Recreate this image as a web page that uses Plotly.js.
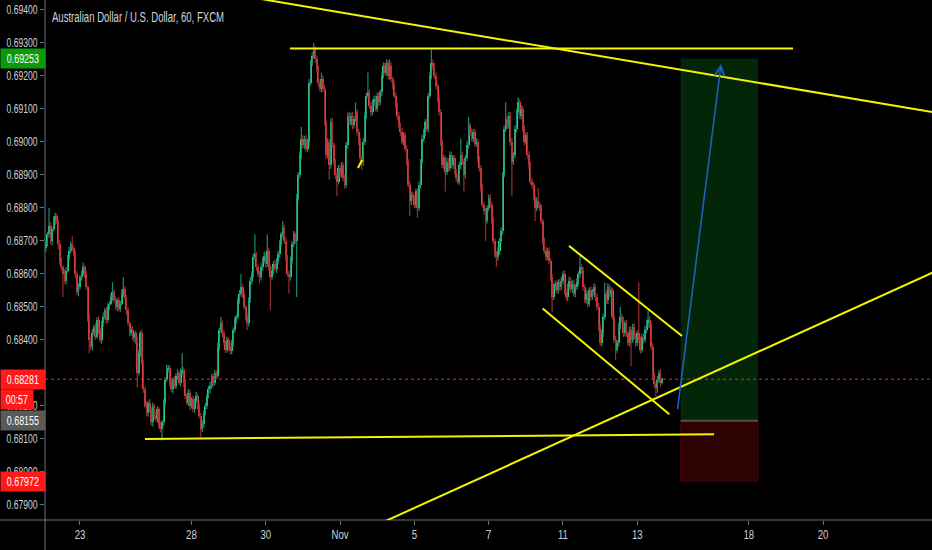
<!DOCTYPE html>
<html><head><meta charset="utf-8">
<script src="https://cdn.plot.ly/plotly-3.0.1.min.js"></script>
<style>html,body{margin:0;padding:0;background:#000;overflow:hidden}#chart{width:932px;height:550px}</style>
</head><body><div id="chart"></div>
<script>
// AUD/USD 60-minute candles. x = trading-hour index (weekends removed), day d starts at hour 24*d
// Prices stored as 1e-5 units above 0.68000
const firstHour = 2;
const firstOpen = 680;
const closes = [
690,720,745,700,735,760,775,760,690,640,620,600,580,610,650,670,690,680,660,600,
545,560,590,600,620,600,560,470,400,380,420,440,410,460,430,400,450,470,490,460,
500,510,530,545,520,500,520,495,510,540,555,530,490,450,420,430,405,420,395,300,
360,420,330,250,200,180,210,190,150,200,170,160,190,140,130,150,210,280,310,315,
270,250,280,260,290,300,270,300,310,270,230,210,240,200,220,190,215,230,200,170,
130,145,180,200,230,250,260,290,270,300,290,380,430,450,420,390,370,400,380,365,
390,430,460,470,520,540,560,540,500,470,450,520,580,600,650,660,620,600,590,620,
640,655,630,670,620,590,610,630,615,640,660,690,720,740,700,650,600,590,640,690,
720,700,830,900,960,1010,990,1010,980,1000,1180,1240,1260,1280,1250,1220,1180,1160,1190,1160,
1060,960,1000,930,1060,990,940,900,880,920,900,930,890,870,990,1080,1060,1080,1050,1070,
1090,1030,1000,950,940,1000,1080,1140,1150,1110,1090,1120,1130,1100,1140,1120,1150,1200,1230,1210,
1240,1200,1230,1190,1170,1140,1110,1080,1050,1030,1000,1020,980,940,870,820,840,830,810,850,
800,870,940,1010,1030,1060,1040,1140,1200,1240,1230,1200,1170,1130,1090,1000,930,950,910,940,
920,960,930,950,910,890,880,930,960,940,900,950,990,1050,1030,1010,1030,995,1000,950,
920,860,810,790,760,800,830,810,760,700,660,650,670,700,730,900,1040,1070,1050,1080,
1000,940,960,1040,1090,1120,1080,1100,1040,1000,1020,960,930,880,870,830,800,820,810,800,
760,700,670,650,670,640,590,530,560,570,550,575,560,580,600,545,530,560,580,555,
570,540,560,575,600,620,610,560,520,540,510,550,530,545,560,530,500,440,390,420,
470,540,520,560,540,550,470,400,370,390,440,470,460,420,450,420,390,430,400,440,
410,390,420,400,370,410,400,430,450,460,445,380,290,265,255,280,300,270,281
];
const highWick = [
10,8,55,12,6,15,10,8,5,12,9,6,14,10,7,12,8,25,6,10,
8,12,6,10,15,7,9,5,11,8,13,6,10,9,12,7,8,14,6,10,
11,7,9,30,8,12,6,10,9,13,35,8,6,11,7,10,12,5,9,14,
10,7,12,8,9,14,6,11,8,10,7,13,9,6,12,8,10,7,15,9,
8,11,7,10,9,12,6,14,50,8,10,7,12,9,6,11,8,13,7,10,
9,12,8,10,7,11,13,6,9,10,8,12,7,20,9,11,8,10,6,12,
10,8,12,7,9,11,40,8,10,6,12,9,11,8,13,60,7,10,9,12,
9,12,8,50,10,7,11,9,13,8,10,12,7,20,9,11,8,10,12,9,
10,8,12,9,11,35,10,8,12,9,10,8,13,20,9,12,10,11,20,11,
12,9,11,8,10,13,9,8,11,10,12,9,8,11,10,9,12,8,10,9,
30,10,8,12,9,11,10,8,60,9,12,8,10,11,9,12,8,10,11,9,
10,9,20,11,8,12,10,9,11,8,12,10,9,11,8,12,10,9,11,8,
9,11,8,12,10,9,11,8,12,40,10,9,11,8,12,10,9,11,8,12,
10,12,9,11,8,10,12,9,50,11,8,10,12,25,9,11,8,10,12,9,
8,10,12,9,11,8,10,12,9,11,8,10,12,9,11,8,10,50,9,11,
10,12,9,11,8,15,10,12,9,11,8,10,12,9,11,8,10,12,40,9,
11,8,10,12,9,11,8,10,12,9,11,8,10,12,9,11,8,10,12,9,
10,12,9,11,8,35,10,12,9,11,8,10,12,9,11,8,10,12,9,11,
9,35,10,12,9,11,8,10,12,9,11,30,10,12,9,11,8,10,12,9,
10,12,9,155,11,8,10,12,12,30,11,8,10,12,9,10,8,11,6
];
const lowWick = [
12,7,10,9,14,6,11,8,15,10,7,70,9,12,6,10,8,11,7,14,
9,13,7,10,6,12,8,15,40,9,11,7,10,6,13,8,12,9,7,11,
8,10,6,12,9,7,13,8,10,6,11,9,14,7,10,8,6,12,9,45,
8,12,9,10,7,11,13,8,9,12,10,7,11,9,10,35,10,12,7,9,
10,8,12,7,9,11,6,10,8,13,9,7,10,12,8,9,11,7,10,8,
25,9,11,8,10,7,12,9,14,8,10,6,11,9,12,7,10,8,13,9,
8,11,9,12,7,10,9,13,8,11,20,9,7,12,10,8,11,9,20,10,
10,8,12,9,11,100,8,10,7,12,9,11,8,10,9,12,8,50,10,11,
9,11,170,8,10,12,9,11,8,10,12,9,11,8,10,9,12,8,10,9,
10,12,9,45,11,8,10,12,45,9,11,8,10,12,9,11,8,10,12,9,
9,11,10,8,25,12,9,11,8,10,12,9,11,8,10,12,9,11,8,10,
8,10,12,9,11,8,10,12,9,11,8,10,9,12,8,45,11,9,10,12,
30,9,11,8,10,12,9,11,8,10,12,9,11,8,10,12,9,11,60,10,
11,8,10,12,9,11,8,10,12,9,50,11,8,10,12,9,11,8,10,12,
10,12,9,11,60,8,10,12,9,11,11,30,10,12,9,11,8,10,12,9,
12,105,10,9,11,8,10,12,9,11,8,10,12,9,11,8,40,10,12,9,
10,12,9,11,8,10,12,45,9,11,8,10,12,9,11,8,10,12,9,11,
12,9,11,8,10,12,9,11,8,10,12,9,11,8,10,12,9,11,8,10,
11,8,10,12,9,11,8,10,30,9,11,8,10,12,9,11,8,10,80,9,
9,11,8,10,12,9,11,8,10,12,9,11,8,10,25,15,9,12,5
];
const dayTickHours = [24,96,144,192,240,288,336,384,456,504];
const dayTickLabels = ['23','28','30','Nov','5','7','11','13','18','20'];
// 0.68300 sits fully behind the last-price box in the reference, so it is not drawn
const priceTicks = [0.679,0.680,0.681,0.682,0.684,0.685,0.686,0.687,0.688,0.689,0.690,0.691,0.692,0.693,0.694];
const lastPrice = 0.68281;
const countdown = '00:57';
const longEntry = 0.68155, longTarget = 0.69253, longStop = 0.67972;
const longStartHour = 412, longEndHour = 462;
// drawn trend lines: [hour0, price0, hour1, price1]
const trendLines = [
  [120, 0.694496, 600, 0.690704],
  [159.7, 0.69283, 484.6, 0.69283],
  [66, 0.68100, 433.6, 0.68114],
  [210, 0.67827, 600, 0.686575],
  [339.9, 0.68685, 412.9, 0.68412],
  [322.9, 0.68495, 404.7, 0.68175],
  [203.6, 0.68921, 206.2, 0.68945]
];
const arrowFrom = [409.9, 0.681856], arrowTo = [438.1, 0.69236];
const titleText = 'Australian Dollar / U.S. Dollar, 60, FXCM';

const toPrice = v => 0.68 + v / 100000;
const X=[],O=[],H=[],L=[],C=[];
let prev = firstOpen;
for (let i=0;i<closes.length;i++){
  const o=prev, c=closes[i];
  X.push(firstHour+i); O.push(o); C.push(c);
  H.push(Math.max(o,c)+highWick[i]); L.push(Math.min(o,c)-lowWick[i]);
  prev=c;
}
const upWx=[],upWy=[],dnWx=[],dnWy=[];
const bBase=[],bH=[],bCol=[];
for (let i=0;i<X.length;i++){
  const up = C[i]>=O[i];
  (up?upWx:dnWx).push(X[i],X[i],null);
  (up?upWy:dnWy).push(toPrice(L[i]),toPrice(H[i]),null);
  bBase.push(toPrice(Math.min(O[i],C[i])));
  bH.push(Math.max(Math.abs(C[i]-O[i]),3)/100000);
  bCol.push(up?'#2fe07f':'#ff4040');
}
const FONT = "'Liberation Sans',Arial,sans-serif";
const traces = [
  {type:'scatter',mode:'lines',x:upWx,y:upWy,line:{color:'#1f8a72',width:1.2},hoverinfo:'skip',showlegend:false},
  {type:'scatter',mode:'lines',x:dnWx,y:dnWy,line:{color:'#9a2e2e',width:1.2},hoverinfo:'skip',showlegend:false},
  {type:'bar',x:X,y:bH,base:bBase,width:1.3,marker:{color:bCol,line:{width:0}},hoverinfo:'skip',showlegend:false}
];
const YEL = '#f5f500';
const shapes = [
  {type:'rect',xref:'x',yref:'y',x0:longStartHour,x1:longEndHour,y0:longEntry,y1:longTarget,fillcolor:'rgb(4,38,8)',line:{width:0},layer:'below'},
  {type:'rect',xref:'x',yref:'y',x0:longStartHour,x1:longEndHour,y0:longStop,y1:longEntry,fillcolor:'rgb(46,2,2)',line:{color:'rgb(70,4,4)',width:1},layer:'below'},
  {type:'line',xref:'x',yref:'y',x0:longStartHour,x1:longEndHour,y0:longEntry,y1:longEntry,line:{color:'#505050',width:2},layer:'below'},
  {type:'line',xref:'paper',yref:'y',x0:0,x1:1,y0:lastPrice,y1:lastPrice,line:{color:'#ff2020',width:1,dash:'dot'}},
  {type:'line',xref:'paper',yref:'paper',x0:-45/887,x1:1,y0:0,y1:0,line:{color:'#6d7079',width:1}},
  {type:'line',xref:'paper',yref:'paper',x0:0,x1:0,y0:-30/520,y1:1,line:{color:'#6d7079',width:1}}
];
trendLines.forEach(t=>shapes.push({type:'line',xref:'x',yref:'y',x0:t[0],y0:t[1],x1:t[2],y1:t[3],line:{color:YEL,width:2}}));
const bx = -45/887;
function priceBox(txt,y,col,yref){
  return {xref:'paper',yref:yref||'y',x:bx,y:y,xanchor:'left',yanchor:'middle',text:txt,showarrow:false,
    bgcolor:col,width:44,height:19,align:'center',borderpad:0,font:{family:FONT,size:12,color:'#ffffff'}};
}
const cd = priceBox(countdown,1-399.5/520,'#ff1a1a','paper'); cd.width=32;
const annotations = [
  {xref:'x',yref:'y',axref:'x',ayref:'y',x:arrowTo[0],y:arrowTo[1],ax:arrowFrom[0],ay:arrowFrom[1],text:'',showarrow:true,
   arrowhead:5,arrowsize:1.2,arrowwidth:1.6,arrowcolor:'#1e5fc4',standoff:0,startstandoff:0},
  priceBox(longTarget.toFixed(5),longTarget,'#0c9a0c'),
  priceBox(lastPrice.toFixed(5),lastPrice,'#ff1a1a'),
  cd,
  priceBox(longEntry.toFixed(5),longEntry,'#5a5a5a'),
  priceBox(longStop.toFixed(5),longStop,'#ff1a1a')
];
const layout = {
  width:932,height:550,margin:{l:45,r:0,t:0,b:30},
  paper_bgcolor:'#000',plot_bgcolor:'#000',
  title:{text:titleText,x:52/932,xanchor:'left',y:1-17/550,yanchor:'middle',font:{family:FONT,size:14,color:'#d1d4dc'}},
  xaxis:{type:'linear',range:[1.4,574.4],showgrid:false,zeroline:false,showline:false,tickmode:'array',tickvals:dayTickHours,ticktext:dayTickLabels,
    ticks:'outside',ticklen:4,tickcolor:'#6d7079',tickfont:{family:FONT,size:12,color:'#cfd2da'},fixedrange:true},
  yaxis:{range:[0.678544,0.6943],showgrid:false,zeroline:false,showline:false,tickmode:'array',tickvals:priceTicks,ticktext:priceTicks.map(v=>v.toFixed(5)),
    ticks:'outside',ticklen:4,tickcolor:'#6d7079',tickfont:{family:FONT,size:12,color:'#cfd2da'},fixedrange:true},
  shapes:shapes,annotations:annotations,bargap:0,showlegend:false,hovermode:false
};
function condense(el, len){
  el.setAttribute('textLength', len);
  el.setAttribute('lengthAdjust','spacingAndGlyphs');
}
Plotly.newPlot('chart',traces,layout,{staticPlot:true,displayModeBar:false}).then(gd=>{
  gd.querySelectorAll('.ytick text').forEach(t=>condense(t,31));
  gd.querySelectorAll('.xtick text').forEach(t=>{ const w=t.getComputedTextLength(); condense(t, w*0.8); });
  const tt = gd.querySelector('.gtitle'); if (tt) condense(tt,172);
  gd.querySelectorAll('.annotation-text').forEach(t=>{
    const s=t.textContent; if (!s) return;
    condense(t, s.length===5 ? 22 : 32);
  });
});
</script></body></html>
